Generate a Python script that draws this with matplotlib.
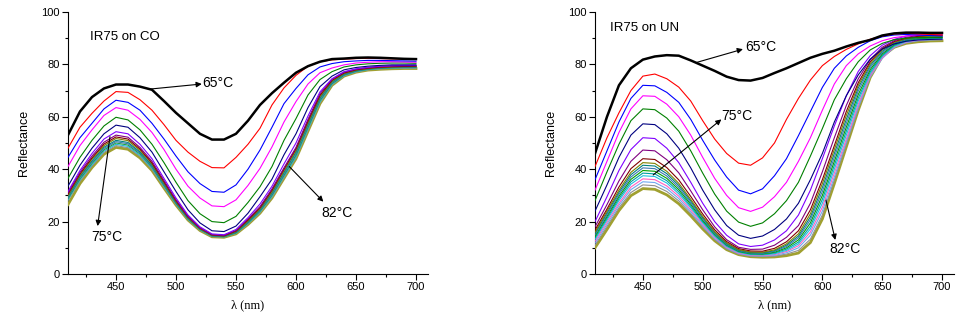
import matplotlib.pyplot as plt
import numpy as np

# wavelength grid (nm)
wl = np.arange(410, 701, 10)

# ---- IR75 on CO (left panel), reflectance ----
co_65 = [53, 62, 67.5, 70.8, 72.3, 72.3, 71.5, 70.3, 66, 61.5,
         57.5, 53.5, 51.3, 51.3, 53.5, 58.5, 64.5, 69, 73, 76.8,
         79.3, 81, 82, 82.2, 82.5, 82.6, 82.5, 82.3, 82.1, 82]
co_red = [48, 56, 61.3, 66, 69.6, 69.3, 66.5, 62.5, 57, 51,
          46.5, 43, 40.6, 40.5, 44.5, 49.5, 55.6, 64.5, 71, 75.8,
          79.3, 81, 81.7, 82, 82.2, 82.3, 82.2, 82.1, 82, 82]
co_blue = [44.5, 52, 57.5, 63, 66.3, 65.5, 62.5, 57.5, 51.5, 45,
           39, 34.5, 31.5, 31.2, 34, 40, 47.3, 56, 65, 70.8,
           76, 79, 80.3, 81, 81.3, 81.5, 81.5, 81.4, 81.3, 81.2]
co_magenta = [41, 49, 55, 60.5, 63.5, 62.5, 59, 54, 47.5, 40,
              33.5, 29, 26, 25.7, 28.3, 33.8, 40.3, 48.5, 58, 65.8,
              72.5, 76.8, 78.6, 79.8, 80.5, 80.8, 81, 81, 80.9, 80.8]
co_green = [36.5, 44.5, 51, 56.5, 59.8, 58.8, 55, 49.5, 42.5, 35,
            28, 23, 20, 19.6, 22, 27.3, 33.3, 41, 51, 59.3,
            68.3, 74.2, 77.2, 79, 79.8, 80.2, 80.4, 80.5, 80.5, 80.4]
co_navy = [33.5, 41.5, 48, 53.5, 56.8, 56, 52, 46.5, 39, 31.5,
           24.5, 19.5, 16.5, 16.2, 18.3, 23.2, 29.5, 36.2, 45.5, 53.5,
           63.5, 71.5, 75.5, 77.9, 78.8, 79.3, 79.6, 79.8, 79.8, 79.8]
co_violet = [31.5, 39.5, 46, 51.5, 54.3, 53.5, 49.5, 44, 36.5, 29,
             22.5, 18, 15.3, 15, 17, 21.5, 26.7, 33.5, 42, 50,
             60.3, 69.5, 74.5, 77.2, 78.3, 78.9, 79.3, 79.5, 79.6, 79.6]
co_b1 = [31, 38.8, 45, 50.3, 53, 52.2, 48.3, 43, 35.7, 28.3,
         22, 17.6, 15, 14.7, 16.6, 21, 25.7, 32.5, 40.5, 48.3,
         59, 68.8, 74.3, 77, 78.1, 78.7, 79.1, 79.3, 79.4, 79.5]
co_b2 = [30.5, 38.2, 44.3, 49.6, 52.3, 51.5, 47.7, 42.4, 35.2, 28,
         21.8, 17.5, 14.9, 14.6, 16.4, 20.6, 25.3, 32, 40, 47.8,
         58.4, 68.2, 73.9, 76.7, 77.9, 78.5, 78.9, 79.1, 79.2, 79.3]
co_b3 = [30, 37.7, 43.8, 49, 51.7, 50.9, 47.2, 42, 34.8, 27.7,
         21.6, 17.3, 14.8, 14.5, 16.2, 20.3, 24.9, 31.5, 39.4, 47.2,
         57.8, 67.7, 73.6, 76.5, 77.8, 78.4, 78.8, 79, 79.1, 79.2]
co_b4 = [29.6, 37.2, 43.2, 48.4, 51, 50.2, 46.6, 41.5, 34.4, 27.4,
         21.4, 17.2, 14.7, 14.4, 16, 20, 24.6, 31, 38.8, 46.6,
         57.2, 67.2, 73.3, 76.3, 77.6, 78.3, 78.7, 78.9, 79, 79.1]
co_b5 = [29.2, 36.8, 42.7, 47.9, 50.5, 49.7, 46.2, 41.1, 34.1, 27.2,
         21.2, 17.1, 14.6, 14.3, 15.9, 19.8, 24.3, 30.5, 38.2, 46,
         56.6, 66.7, 73, 76.1, 77.5, 78.2, 78.6, 78.8, 78.9, 79]
co_b6 = [28.8, 36.3, 42.2, 47.4, 50, 49.2, 45.8, 40.8, 33.8, 27,
         21, 17, 14.5, 14.2, 15.7, 19.5, 24, 30.1, 37.7, 45.4,
         56, 66.2, 72.7, 75.9, 77.4, 78.1, 78.5, 78.7, 78.8, 78.8]
co_b7 = [28.4, 35.9, 41.7, 46.9, 49.5, 48.7, 45.3, 40.4, 33.5, 26.8,
         20.9, 16.9, 14.4, 14.2, 15.6, 19.3, 23.7, 29.7, 37.2, 44.8,
         55.4, 65.7, 72.4, 75.7, 77.2, 78, 78.4, 78.6, 78.7, 78.7]
co_b8 = [28, 35.4, 41.2, 46.4, 49, 48.2, 44.9, 40, 33.2, 26.6,
         20.8, 16.8, 14.3, 14.1, 15.5, 19.1, 23.4, 29.3, 36.8, 44.4,
         54.9, 65.3, 72.2, 75.6, 77.1, 77.9, 78.3, 78.5, 78.5, 78.5]
co_b9 = [26.5, 34.5, 40.6, 45.7, 48.3, 47.6, 44.3, 39.5, 32.8, 26.3,
         20.6, 16.6, 14.2, 14, 15.3, 18.9, 23.2, 29, 36.5, 44,
         54.5, 65, 72, 75.5, 77, 77.8, 78.1, 78.3, 78.4, 78.4]

# ---- IR75 on UN (right panel) ----
un_65 = [46, 60, 72, 78.5, 81.8, 83, 83.5, 83.3, 81.5, 79.5,
         77.5, 75.3, 74, 73.8, 74.8, 76.7, 78.5, 80.5, 82.5, 84,
         85.2, 86.8, 88.2, 89.3, 91, 91.8, 92.1, 92.1, 92, 92]
un_red = [41, 52, 61.5, 70, 75.5, 76.3, 74.5, 71.3, 66, 58.5,
          51.5, 46, 42.3, 41.5, 44.3, 50, 59, 67, 74, 79.5,
          83, 85.7, 87.8, 89.6, 90.8, 91.6, 91.8, 91.6, 91.4, 91.2]
un_blue = [36, 47, 58, 67, 72, 71.8, 69.3, 65.5, 59, 51,
           43.5, 37, 32, 30.6, 32.5, 37.5, 44, 52.8, 62, 71.2,
           78.5, 83.2, 86.5, 89, 90.5, 91.2, 91.4, 91.2, 91, 90.8]
un_magenta = [32, 43, 54, 63, 68, 67.8, 64.8, 60, 53, 44.5,
              36.5, 30, 25.3, 23.9, 25.5, 29.5, 35, 43, 52, 62.5,
              72.5, 79.5, 84, 87, 89, 90.2, 90.8, 91.2, 91.4, 91.5]
un_green = [28, 39, 49.5, 58.5, 63, 62.7, 59.5, 54.5, 47, 38.5,
            30.5, 24, 19.8, 18.2, 19.5, 23, 28, 35, 45, 55.5,
            66.5, 74.5, 81, 85.5, 88, 89.4, 90, 90.2, 90.2, 90.2]
un_navy = [24, 34, 44.5, 53, 57.3, 57, 53.5, 48, 40.5, 32,
           24.5, 18.5, 14.8, 13.6, 14.5, 17, 21, 27, 36, 46,
           58, 68, 76, 82, 85.8, 87.8, 88.8, 89.3, 89.5, 89.6]
un_violet = [20, 29.5, 39.5, 47.5, 52, 51.7, 48, 42.5, 35, 27,
             20, 14.8, 11.5, 10.5, 11, 13, 16.5, 22.5, 32, 44,
             56.5, 68, 77.3, 83.3, 87.3, 89.5, 90.8, 91.4, 91.7, 91.8]
un_b1 = [18, 26.5, 35.5, 43, 47.3, 47, 43.6, 38.6, 31.7, 24.5,
         18, 13.1, 10.2, 9.4, 9.5, 11, 14, 18.5, 27, 39,
         52, 64.3, 74.5, 81.8, 86.5, 89, 90.3, 91, 91.3, 91.4]
un_b2 = [16.8, 24.8, 33.2, 40.2, 44, 43.7, 40.6, 35.9, 29.6, 22.9,
         16.9, 12.4, 9.7, 8.8, 8.7, 9.8, 12.3, 16.5, 24.5, 36,
         49, 62, 73, 81, 86, 88.7, 90, 90.7, 91, 91.1]
un_b3 = [16, 24, 32, 38.8, 42.5, 42.2, 39.2, 34.6, 28.5, 22,
         16.2, 11.9, 9.3, 8.4, 8.3, 9.2, 11.5, 15.3, 23, 34.5,
         47.5, 60.5, 72, 80.3, 85.5, 88.4, 89.8, 90.5, 90.8, 90.9]
un_b4 = [15.5, 23.3, 31.2, 37.9, 41.5, 41.2, 38.3, 33.8, 27.9, 21.5,
         15.9, 11.6, 9.1, 8.2, 8.1, 8.9, 11, 14.5, 21.8, 33,
         46, 59, 71, 79.6, 85, 88.1, 89.6, 90.3, 90.6, 90.7]
un_b5 = [15, 22.6, 30.4, 37, 40.5, 40.2, 37.4, 33, 27.2, 21,
         15.5, 11.3, 8.9, 8, 7.9, 8.6, 10.5, 13.8, 20.7, 31.5,
         44.5, 57.5, 69.8, 78.8, 84.5, 87.8, 89.4, 90.1, 90.4, 90.5]
un_b6 = [14.4, 22, 29.6, 36.1, 39.5, 39.2, 36.5, 32.2, 26.6, 20.5,
         15.2, 11.1, 8.7, 7.8, 7.7, 8.3, 10, 13, 19.5, 30,
         43, 56, 68.5, 78, 84, 87.5, 89.2, 89.9, 90.2, 90.3]
un_b7 = [13.8, 21.3, 28.8, 35.2, 38.5, 38.2, 35.6, 31.4, 25.9, 20,
         14.8, 10.8, 8.5, 7.6, 7.5, 8, 9.5, 12.2, 18.3, 28.5,
         41.5, 54.5, 67.2, 77.2, 83.5, 87.2, 89, 89.7, 90, 90.1]
un_b8 = [13.2, 20.6, 28, 34.3, 37.5, 37.2, 34.7, 30.6, 25.3, 19.5,
         14.4, 10.5, 8.3, 7.4, 7.3, 7.7, 9, 11.5, 17.2, 27,
         40, 53, 66, 76.5, 83, 86.9, 88.7, 89.5, 89.8, 89.9]
un_b9 = [12.5, 19.8, 27, 33.2, 36.3, 36, 33.6, 29.7, 24.5, 18.9,
         14, 10.2, 8, 7.2, 7.1, 7.4, 8.6, 10.8, 16, 25.5,
         38.5, 51.5, 64.8, 75.8, 82.5, 86.7, 88.5, 89.3, 89.6, 89.7]
un_b10 = [11.8, 19, 26.2, 32.2, 35.2, 34.9, 32.6, 28.8, 23.8, 18.4,
          13.6, 9.9, 7.8, 7, 6.9, 7.1, 8.1, 10, 14.8, 24,
          37, 50.5, 63.8, 75.2, 82.2, 86.5, 88.3, 89.1, 89.4, 89.5]
un_b11 = [11, 18.2, 25.3, 31.1, 34, 33.7, 31.5, 27.9, 23.1, 17.9,
          13.2, 9.6, 7.6, 6.8, 6.7, 6.8, 7.6, 9, 13.3, 22.5,
          35.8, 49.5, 63, 75.5, 82.8, 86.5, 88.2, 88.9, 89.2, 89.3]
un_b12 = [10, 17, 24.2, 29.9, 32.6, 32.3, 30.2, 26.8, 22.2, 17.2,
          12.7, 9.3, 7.4, 6.6, 6.4, 6.5, 7, 8, 12, 21,
          34.5, 48.5, 62.5, 75, 83, 86.5, 88, 88.6, 88.9, 89]

co_series = [co_65, co_red, co_blue, co_magenta, co_green, co_navy, co_violet,
             co_b1, co_b2, co_b3, co_b4, co_b5, co_b6, co_b7, co_b8, co_b9]
co_colors = ['#000000', '#FF0000', '#0000FF', '#FF00FF', '#008000', '#000080',
             '#8000FF', '#800080', '#800000', '#808000', '#008080', '#3C78B4',
             '#20A040', '#20B8D8', '#909090', '#A0A030']

un_series = [un_65, un_red, un_blue, un_magenta, un_green, un_navy, un_violet,
             un_b1, un_b2, un_b3, un_b4, un_b5, un_b6, un_b7, un_b8, un_b9,
             un_b10, un_b11, un_b12]
un_colors = ['#000000', '#FF0000', '#0000FF', '#FF00FF', '#008000', '#000080',
             '#8000FF', '#800080', '#800000', '#808000', '#008080', '#3C78B4',
             '#00A000', '#00A0A0', '#20C0E0', '#FF60C0', '#70A8F0', '#909090',
             '#A0A030']

sans = ['Liberation Sans', 'DejaVu Sans']
serif = ['Liberation Serif', 'DejaVu Serif']
plt.rcParams['font.family'] = sans

fig = plt.figure(figsize=(9.56, 3.22), dpi=100)
ax1 = fig.add_axes([0.0711, 0.149, 0.3766, 0.814])
ax2 = fig.add_axes([0.6224, 0.149, 0.3755, 0.814])


def draw_panel(ax, series, colors):
    n = len(series)
    for i, (vals, c) in enumerate(zip(series, colors)):
        if i == 0:
            lw = 1.8
        elif i == n - 1:
            lw = 2.0
        else:
            lw = 0.8
        ax.plot(wl, vals, color=c, lw=lw, zorder=10 + n - i)
    ax.set_xlim(410, 710)
    ax.set_ylim(0, 100)
    ax.set_xticks([450, 500, 550, 600, 650, 700])
    ax.set_xticks(np.arange(425, 710, 50), minor=True)
    ax.set_yticks([0, 20, 40, 60, 80, 100])
    ax.set_yticks([10, 30, 50, 70, 90], minor=True)
    for s in ('top', 'right'):
        ax.spines[s].set_visible(False)
    for s in ('left', 'bottom'):
        ax.spines[s].set_linewidth(0.8)
    ax.tick_params(which='major', direction='out', length=4, width=0.8,
                   labelsize=8, pad=2)
    ax.tick_params(which='minor', direction='out', length=2.5, width=0.8)
    ax.set_ylabel('Reflectance', fontsize=9, labelpad=8)
    ax.set_xlabel('λ (nm)', fontsize=9, family=serif, labelpad=5)


def note(ax, text, start, end, pos, ha='left', va='center'):
    ax.annotate('', xy=end, xytext=start,
                arrowprops=dict(arrowstyle='-|>', color='k', lw=0.8,
                                mutation_scale=8, shrinkA=0, shrinkB=0),
                zorder=50)
    ax.text(pos[0], pos[1], text, fontsize=10, ha=ha, va=va, zorder=50)


draw_panel(ax1, co_series, co_colors)
draw_panel(ax2, un_series, un_colors)

ax1.text(428, 90.5, 'IR75 on CO', fontsize=9.5, va='center')
note(ax1, '65°C', (477, 70.5), (521.5, 72.5), (522, 72.8))
note(ax1, '75°C', (445, 52.4), (434.7, 18.3), (429, 14.3), ha='left')
note(ax1, '82°C', (594.4, 41), (622.8, 27.6), (621.5, 23.3))

ax2.text(422.5, 94, 'IR75 on UN', fontsize=9.5, va='center')
note(ax2, '65°C', (494.7, 80.7), (533.6, 85.8), (535.5, 86.6))
note(ax2, '75°C', (458.6, 37.8), (515.6, 59), (515.5, 60.4))
note(ax2, '82°C', (603, 28.2), (610.8, 13), (605.5, 9.6))

fig.savefig('out.png', dpi=100)
